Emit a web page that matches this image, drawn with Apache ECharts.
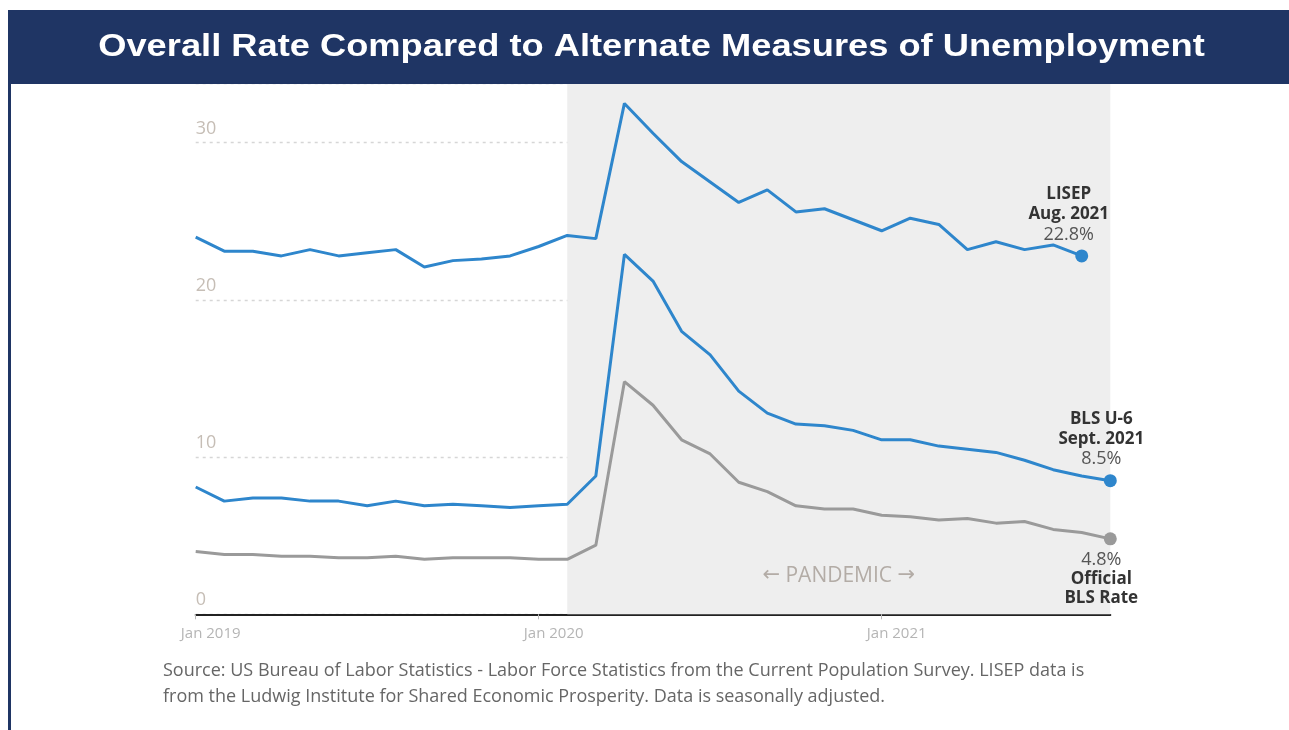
<!DOCTYPE html>
<html>
<head>
<meta charset="utf-8">
<title>Overall Rate Compared to Alternate Measures of Unemployment</title>
<script src="https://cdn.jsdelivr.net/npm/echarts@6/dist/echarts.min.js"></script>
<style>
  html, body { margin: 0; padding: 0; background: #fff; }
  #main { width: 1289px; height: 730px; }
</style>
</head>
<body>
<div id="main"></div>
<script>
// months, Jan 2019 - Sep 2021
var months = [
    'Jan 2019', 'Feb 2019', 'Mar 2019', 'Apr 2019', 'May 2019', 'Jun 2019',
    'Jul 2019', 'Aug 2019', 'Sep 2019', 'Oct 2019', 'Nov 2019', 'Dec 2019',
    'Jan 2020', 'Feb 2020', 'Mar 2020', 'Apr 2020', 'May 2020', 'Jun 2020',
    'Jul 2020', 'Aug 2020', 'Sep 2020', 'Oct 2020', 'Nov 2020', 'Dec 2020',
    'Jan 2021', 'Feb 2021', 'Mar 2021', 'Apr 2021', 'May 2021', 'Jun 2021',
    'Jul 2021', 'Aug 2021', 'Sep 2021'
];

// LISEP (ends Aug 2021)
var lisep = [
    24.0, 23.1, 23.1, 22.8, 23.2, 22.8, 23.0, 23.2, 22.1, 22.5, 22.6, 22.8,
    23.4, 24.1, 23.9, 32.5, 30.6, 28.8, 27.5, 26.2, 27.0, 25.6, 25.8, 25.1,
    24.4, 25.2, 24.8, 23.2, 23.7, 23.2, 23.5, 22.8
];

// BLS U-6
var u6 = [
    8.1, 7.2, 7.4, 7.4, 7.2, 7.2, 6.9, 7.2, 6.9, 7.0, 6.9, 6.8,
    6.9, 7.0, 8.8, 22.9, 21.2, 18.0, 16.5, 14.2, 12.8, 12.1, 12.0, 11.7,
    11.1, 11.1, 10.7, 10.5, 10.3, 9.8, 9.2, 8.8, 8.5
];

// official BLS rate
var official = [
    4.0, 3.8, 3.8, 3.7, 3.7, 3.6, 3.6, 3.7, 3.5, 3.6, 3.6, 3.6,
    3.5, 3.5, 4.4, 14.8, 13.3, 11.1, 10.2, 8.4, 7.8, 6.9, 6.7, 6.7,
    6.3, 6.2, 6.0, 6.1, 5.8, 5.9, 5.4, 5.2, 4.8
];

var yTicks = [0, 10, 20, 30];
var pandemic = ['Feb 2020', 'Sep 2021'];

var endLabels = [
    ['LISEP', 'Aug. 2021'],
    ['BLS U-6', 'Sept. 2021'],
    ['Official', 'BLS Rate']
];

var BLUE = '#2e86cc';
var GREY = '#9a9a9a';
var FONT = '"Open Sans", "Noto Sans", sans-serif';

function lastPoint(arr) {
    var i = arr.length - 1;
    return [months[i], arr[i]];
}

function endMark(arr, color, names, below) {
    var val = arr[arr.length - 1].toFixed(1) + '%';
    var txt = below
        ? '{n|' + val + '}\n{b|' + names[0] + '}\n{b|' + names[1] + '}'
        : '{b|' + names[0] + '}\n{b|' + names[1] + '}\n{n|' + val + '}';
    var lh = below ? 19 : 20;
    return {
        symbol: 'circle',
        symbolSize: 13,
        silent: true,
        itemStyle: { color: color },
        label: {
            show: true,
            position: below ? 'bottom' : 'top',
            distance: 5,
            formatter: txt,
            rich: {
                b: { fontFamily: FONT, fontSize: 17, fontWeight: 'bold', color: '#333', lineHeight: lh, align: 'center' },
                n: { fontFamily: FONT, fontSize: 18, color: '#555', lineHeight: lh, align: 'center' }
            }
        },
        data: [{ coord: lastPoint(arr) }]
    };
}

var chart = echarts.init(document.getElementById('main'), null, { renderer: 'canvas' });

var marks = [endMark(lisep, BLUE, endLabels[0], false),
             endMark(u6, BLUE, endLabels[1], false),
             endMark(official, GREY, endLabels[2], true)];
marks[0].label.offset = [-13, 0];
marks[1].label.offset = [-9, 0];
marks[2].label.offset = [-9, 0];

var option = {
    animation: false,
    backgroundColor: '#fff',
    grid: { left: 195.7, right: 178.7, top: 83, bottom: 115.7 },
    xAxis: {
        type: 'category',
        data: months,
        boundaryGap: false,
        axisLine: { show: true, lineStyle: { color: '#222', width: 2 } },
        axisTick: {
            show: true,
            length: 5,
            interval: function (idx) { return idx % 12 === 0; },
            lineStyle: { color: '#bbb' }
        },
        axisLabel: {
            interval: function (idx) { return idx % 12 === 0; },
            color: '#b5b5b5',
            fontFamily: FONT,
            fontSize: 15,
            margin: 12,
            padding: [0, 0, 0, 30]
        },
        splitLine: { show: false }
    },
    yAxis: {
        type: 'value',
        min: yTicks[0],
        max: 33.8,
        interval: 10,
        axisLine: { show: false },
        axisTick: { show: false },
        axisLabel: {
            inside: true,
            margin: 0,
            verticalAlign: 'bottom',
            padding: [0, 0, 5, 0],
            color: '#c6beb6',
            fontFamily: FONT,
            fontSize: 18,
            showMaxLabel: false,
            formatter: function (v) { return yTicks.indexOf(v) >= 0 ? String(v) : ''; }
        },
        splitLine: { show: true, lineStyle: { color: '#d6d6d6', type: [3, 4], width: 1.3 } }
    },
    series: [
        {
            // shaded pandemic period
            type: 'line',
            data: [],
            z: -1,
            silent: true,
            markArea: {
                silent: true,
                itemStyle: { color: '#eeeeee' },
                label: {
                    show: true,
                    position: 'insideBottom',
                    distance: 28,
                    formatter: '{a|\u2190} PANDEMIC {a|\u2192}',
                    color: '#b3aca6',
                    fontFamily: FONT,
                    fontSize: 21,
                    rich: {
                        a: { fontFamily: '"DejaVu Sans", sans-serif', fontSize: 21, color: '#b3aca6' }
                    }
                },
                data: [[{ xAxis: pandemic[0] }, { xAxis: pandemic[1] }]]
            }
        },
        {
            name: 'LISEP',
            type: 'line',
            data: lisep,
            showSymbol: false,
            z: 3,
            lineStyle: { color: BLUE, width: 3 },
            itemStyle: { color: BLUE },
            markPoint: marks[0]
        },
        {
            name: 'BLS U-6',
            type: 'line',
            data: u6,
            showSymbol: false,
            z: 3,
            lineStyle: { color: BLUE, width: 3 },
            itemStyle: { color: BLUE },
            markPoint: marks[1]
        },
        {
            name: 'Official BLS Rate',
            type: 'line',
            data: official,
            showSymbol: false,
            z: 3,
            lineStyle: { color: GREY, width: 3 },
            itemStyle: { color: GREY },
            markPoint: marks[2]
        }
    ],
    graphic: [
        {
            type: 'rect',
            z: 100,
            shape: { x: 8, y: 10, width: 1281, height: 74 },
            style: { fill: '#1f3564' }
        },
        {
            type: 'rect',
            z: 100,
            shape: { x: 8, y: 10, width: 3, height: 720 },
            style: { fill: '#1f3564' }
        },
        {
            type: 'text',
            z: 101,
            x: 651.5,
            y: 47,
            scaleX: 1.17,
            style: {
                text: 'Overall Rate Compared to Alternate Measures of Unemployment',
                fill: '#fff',
                font: 'bold 31px "Liberation Sans", Arial, sans-serif',
                align: 'center',
                verticalAlign: 'middle'
            }
        },
        {
            type: 'text',
            z: 101,
            x: 163,
            y: 658,
            style: {
                text: 'Source: US Bureau of Labor Statistics - Labor Force Statistics from the Current Population Survey. LISEP data is\nfrom the Ludwig Institute for Shared Economic Prosperity. Data is seasonally adjusted.',
                fill: '#666',
                font: '18px "Open Sans", sans-serif',
                lineHeight: 26,
                align: 'left',
                verticalAlign: 'top'
            }
        }
    ]
};

chart.setOption(option);
</script>
</body>
</html>
